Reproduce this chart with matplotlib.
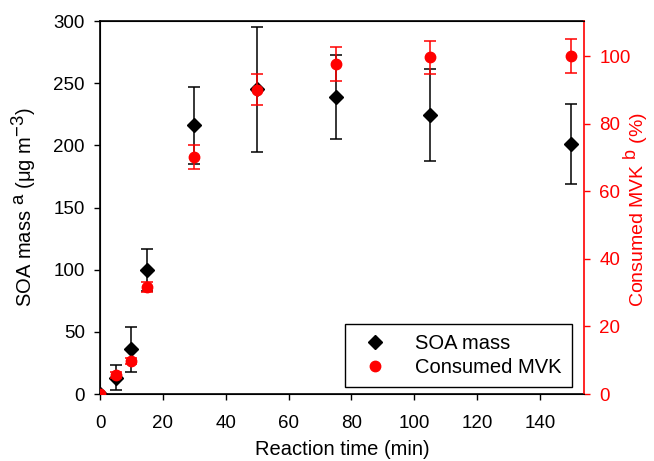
import matplotlib
matplotlib.use("Agg")
import matplotlib.pyplot as plt
from matplotlib.lines import Line2D
try:
    import matplotlib._mathtext as _mt
    _mt.SHRINK_FACTOR = 0.92
except Exception:
    pass

plt.rcParams['font.family'] = ['Liberation Sans', 'DejaVu Sans']
plt.rcParams['mathtext.fontset'] = 'custom'
plt.rcParams['mathtext.rm'] = 'Liberation Sans'
plt.rcParams['mathtext.it'] = 'Liberation Sans:italic'

time = [0, 5, 10, 15, 30, 50, 75, 105, 150]
soa = [0, 13, 36, 100, 216, 245, 239, 224, 201]
soa_err = [0, 10, 18, 17, 31, 50, 34, 37, 32]
mvk_time = [0, 5, 10, 15, 30, 50, 75, 105, 150]
mvk = [0, 5.6, 9.8, 31.6, 70.2, 90.1, 97.6, 99.6, 100.1]
mvk_err = [0, 1.0, 1.0, 1.5, 3.5, 4.5, 5.0, 5.0, 5.0]

fig = plt.figure(figsize=(6.54, 4.61), dpi=100)
ax = fig.add_axes([100/654, 1-394/461, (584-100)/654, (394-21)/461])
ax2 = ax.twinx()

ax.errorbar(time, soa, yerr=soa_err, fmt='D', color='black', ms=7,
            ecolor='black', elinewidth=1.1, capsize=4, capthick=1.1,
            label='SOA mass', zorder=2)
ax2.errorbar(mvk_time, mvk, yerr=mvk_err, fmt='o', color='red', ms=7.5,
             ecolor='red', elinewidth=1.1, capsize=4, capthick=1.1,
             label='Consumed MVK', zorder=3)

ax.set_xlim(0, 154)
ax.set_ylim(0, 300)
ax2.set_ylim(0, 110.4)
ax.set_xticks(range(0, 141, 20))
ax.set_yticks(range(0, 301, 50))
ax2.set_yticks(range(0, 101, 20))

ax.tick_params(axis='x', direction='out', length=4, width=1, labelsize=13.5, pad=11)
ax.tick_params(axis='y', direction='out', length=4, width=1, labelsize=13.5, pad=7)
ax2.tick_params(axis='y', direction='out', length=4, width=1, labelsize=13.5, pad=7,
                colors='red', labelcolor='red')
ax2.spines['right'].set_color('red')
ax2.spines['right'].set_linewidth(1.2)
for s in ('left', 'bottom', 'top'):
    ax.spines[s].set_linewidth(1.2)
ax.spines['right'].set_visible(False)

ax.set_xlabel('Reaction time (min)', fontsize=14.5, labelpad=6)
ax.set_ylabel(r'SOA mass $^{\mathrm{a}}$ ($\mathrm{\mu}$g m$^{-3}$)', fontsize=14.5)
ax.yaxis.set_label_coords((38 - 100) / 484, 0.5)
ax2.set_ylabel(r'Consumed MVK $^{\mathrm{b}}$ (%)', fontsize=14, color='red')
ax2.yaxis.set_label_coords((622 - 100) / 484, 0.495)

handles = [Line2D([], [], marker='D', color='black', ls='none', ms=7),
           Line2D([], [], marker='o', color='red', ls='none', ms=7.5)]
leg = ax2.legend(handles, ['SOA mass', 'Consumed MVK'], loc='lower right',
                 bbox_to_anchor=(0.975, 0.019), fontsize=14.5, frameon=True,
                 fancybox=False, edgecolor='black', framealpha=1,
                 borderpad=0.5, handlelength=2.0, handletextpad=1.0,
                 labelspacing=0.25, borderaxespad=0)
leg.get_frame().set_linewidth(1.0)

fig.savefig('out.png', dpi=100)
